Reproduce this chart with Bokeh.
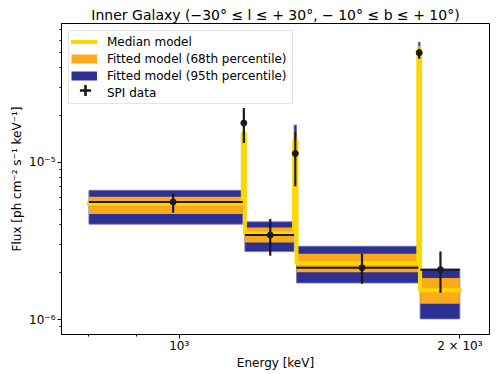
from bokeh.plotting import figure
from bokeh.models import (Range1d, FixedTicker, CustomJSTickFormatter, Legend, LegendItem)
from bokeh.embed import file_html
from bokeh.resources import INLINE

# ---- data ----
bin_edges = [800, 1170, 1176, 1328, 1336, 1805, 1813, 2000]          # keV
median_model = [5.48e-6, 1.52e-5, 3.53e-6, 1.38e-5, 2.29e-6, 5.19e-5, 1.54e-6]
p68_low = [4.70e-6, 1.38e-5, 3.10e-6, 1.20e-5, 2.00e-6, 4.90e-5, 1.26e-6]
p68_high = [6.05e-6, 1.55e-5, 3.86e-6, 1.58e-5, 2.62e-6, 5.50e-5, 1.84e-6]
p95_low = [4.05e-6, 1.25e-5, 2.71e-6, 1.05e-5, 1.71e-6, 4.60e-5, 1.01e-6]
p95_high = [6.65e-6, 1.57e-5, 4.19e-6, 1.73e-5, 2.93e-6, 5.83e-5, 2.10e-6]
spi_flux = [5.61e-6, 1.78e-5, 3.45e-6, 1.14e-5, 2.14e-6, 4.99e-5, 2.08e-6]
spi_high = [6.34e-6, 2.22e-5, 4.36e-6, 1.58e-5, 2.62e-6, 5.29e-5, 2.71e-6]
spi_low = [4.78e-6, 1.33e-5, 2.55e-6, 7.05e-6, 1.69e-6, 4.57e-5, 1.48e-6]

x_ticks = [1000, 2000]
x_tick_labels = ["10³", "2 × 10³"]
x_minor_ticks = [700, 800, 900]
y_ticks = [1e-6, 1e-5]
y_tick_labels = ["10⁻⁶", "10⁻⁵"]
y_minor_ticks = [m * 10.0 ** e for e in (-7, -6, -5) for m in range(2, 10)]

FONT = "DejaVu Sans"
YELLOW = "#FFD700"
ORANGE = "#FBAA1A"
BLUE = "#2E3192"
BLACK = "#1a1a1a"

bin_lo = bin_edges[:-1]
bin_hi = bin_edges[1:]
bin_center = [(a + b) / 2 for a, b in zip(bin_lo, bin_hi)]

p = figure(width=490, height=372, x_axis_type="log", y_axis_type="log",
           x_range=Range1d(747.6, 2152), y_range=Range1d(8.04e-7, 7.66e-5),
           output_backend="svg", toolbar_location=None,
           min_border_left=61, min_border_right=1, min_border_top=23, min_border_bottom=30,
           title="Inner Galaxy (−30° ≤ l ≤ + 30°, − 10° ≤ b ≤ + 10°)")

p.title.align = "center"
p.title.text_font = FONT
p.title.text_font_size = "14px"
p.title.text_font_style = "normal"
p.title.text_color = "black"
p.title.standoff = 2
p.title.offset = 0

p.grid.visible = False
p.outline_line_color = "black"
p.outline_line_width = 1
p.background_fill_color = "white"
p.border_fill_color = "white"

# bands
p.quad(left=bin_lo, right=bin_hi, bottom=p95_low, top=p95_high,
       fill_color=BLUE, line_color="#6e72b8", line_width=0.8)
p.quad(left=bin_lo, right=bin_hi, bottom=p68_low, top=p68_high,
       fill_color=ORANGE, line_color=None)

# median model as steps
r_med = p.step(x=bin_edges, y=median_model + [median_model[-1]], mode="after",
               line_color=YELLOW, line_width=4, line_cap="square", line_join="round")

# SPI data
p.segment(x0=bin_lo, y0=spi_flux, x1=bin_hi, y1=spi_flux, line_color=BLACK, line_width=2)
p.segment(x0=bin_center, y0=spi_low, x1=bin_center, y1=spi_high, line_color=BLACK, line_width=2.2)
p.scatter(x=bin_center, y=spi_flux, size=6, marker="circle", fill_color=BLACK, line_color=BLACK)

# legend-only renderers (not drawn in the plot)
r68 = p.line(x=bin_center, y=median_model, line_color=ORANGE, line_width=9, visible=False)
r95 = p.line(x=bin_center, y=median_model, line_color=BLUE, line_width=9, visible=False)
r_blank = p.line(x=bin_center, y=spi_flux, line_alpha=0, visible=False)
r_cross = p.scatter(x=bin_center, y=spi_flux, marker="cross", line_color=BLACK,
                    line_width=2.6, visible=False)

# axes
for ax in (p.xaxis[0], p.yaxis[0]):
    ax.axis_line_color = "black"
    ax.major_tick_line_color = "black"
    ax.minor_tick_line_color = "black"
    ax.major_tick_in = 0
    ax.minor_tick_in = 0
    ax.major_tick_out = 4
    ax.minor_tick_out = 2
    ax.major_label_text_font = FONT
    ax.major_label_text_font_size = "12px"
    ax.major_label_text_color = "black"
    ax.axis_label_text_font = FONT
    ax.axis_label_text_font_size = "12px"
    ax.axis_label_text_font_style = "normal"
    ax.axis_label_text_color = "black"

code = """
let best = 0, bd = Infinity;
for (let i = 0; i < tick_vals.length; i++) {
  const d = Math.abs(Math.log(tick) - Math.log(tick_vals[i]));
  if (d < bd) { bd = d; best = i; }
}
return tick_text[best];
"""
p.xaxis.ticker = FixedTicker(ticks=x_ticks, minor_ticks=x_minor_ticks)
p.xaxis.formatter = CustomJSTickFormatter(args=dict(tick_vals=x_ticks, tick_text=x_tick_labels), code=code)
p.yaxis.ticker = FixedTicker(ticks=y_ticks, minor_ticks=y_minor_ticks)
p.yaxis.formatter = CustomJSTickFormatter(args=dict(tick_vals=y_ticks, tick_text=y_tick_labels), code=code)

p.xaxis.axis_label = "Energy [keV]"
p.xaxis.major_label_standoff = 0
p.xaxis.axis_label_standoff = 0
p.yaxis.axis_label = "Flux [ph cm⁻² s⁻¹ keV⁻¹]"
p.yaxis.major_label_standoff = 2
p.yaxis.axis_label_standoff = 2

legend = Legend(items=[LegendItem(label="Median model", renderers=[r_med]),
                       LegendItem(label="Fitted model (68th percentile)", renderers=[r68]),
                       LegendItem(label="Fitted model (95th percentile)", renderers=[r95]),
                       LegendItem(label="SPI data", renderers=[r_blank])],
                location="top_left", margin=7, padding=2, spacing=0,
                glyph_width=26, glyph_height=17, label_height=17, label_width=183,
                label_standoff=10, label_text_font=FONT, label_text_font_size="12px",
                label_text_color="black",
                border_line_color="#cccccc", border_line_width=1,
                background_fill_color="white", background_fill_alpha=0.8)
p.add_layout(legend)

legend_cross = Legend(items=[LegendItem(label=" ", renderers=[r_cross])],
                      location=(10, 230), margin=0, padding=0, spacing=0,
                      glyph_width=28, glyph_height=28, label_height=28, label_width=0,
                      label_standoff=0, label_text_font_size="1px",
                      border_line_alpha=0, background_fill_alpha=0)
p.add_layout(legend_cross)

open("out.html", "w").write(file_html(p, INLINE))
